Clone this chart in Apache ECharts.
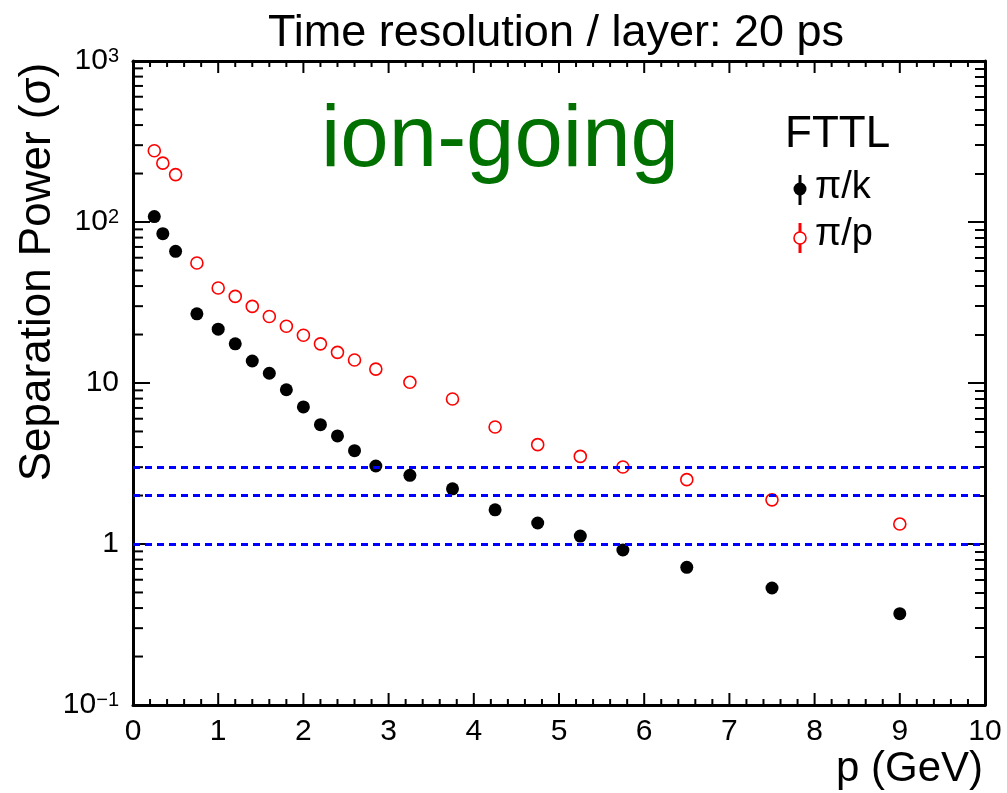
<!DOCTYPE html>
<html>
<head>
<meta charset="utf-8">
<script src="https://cdn.jsdelivr.net/npm/echarts@6/dist/echarts.min.js"></script>
<style>
  html, body { margin: 0; padding: 0; background: #fff; }
  #chart { width: 1007px; height: 793px; }
</style>
</head>
<body>
<div id="chart"></div>
<script>
// momentum bins (GeV)
const pValues = [0.25, 0.35, 0.5, 0.75, 1.0, 1.2, 1.4, 1.6, 1.8, 2.0, 2.2, 2.4, 2.6, 2.85, 3.25, 3.75, 4.25, 4.75, 5.25, 5.75, 6.5, 7.5, 9.0];
// separation power, pi/k and pi/p
const sepPiK = [108, 84.6, 65.7, 26.9, 21.6, 17.5, 13.7, 11.5, 9.08, 7.1, 5.51, 4.69, 3.80, 3.05, 2.67, 2.20, 1.63, 1.35, 1.12, 0.918, 0.716, 0.533, 0.369];
const sepPiP = [277, 232, 197, 55.6, 38.9, 34.5, 29.9, 25.9, 22.5, 19.8, 17.5, 15.5, 13.9, 12.2, 10.1, 7.96, 5.33, 4.14, 3.50, 3.01, 2.51, 1.88, 1.33];
// reference sigma lines
const thresholds = [1, 2, 3];
// axis ranges
const xRange = [0, 10];
const yRange = [0.1, 1000];
const decades = [-1, 0, 1, 2];

const FONT = 'Liberation Sans';
const W = 1007, H = 793;

// plot frame
const G = { left: 133, right: 22, top: 61, bottom: 88 };
const plotW = W - G.left - G.right;

// tick positions for the frame
const yMajorVals = [0.1, 1, 10, 100, 1000];
const yMinorVals = [];
const minorLogTicks = [];
decades.forEach(d => {
  for (let k = 2; k <= 9; k++) {
    yMinorVals.push(k * Math.pow(10, d));
    minorLogTicks.push(d + Math.log10(k));
  }
});
const xMajorVals = [];
const xMinorVals = [];
for (let i = 0; i <= 50; i++) {
  const v = Math.round(i * 2) / 10;
  if (i % 5 === 0) xMajorVals.push(v); else xMinorVals.push(v);
}

const yLabel = v => {
  if (Math.abs(v - 1) < 1e-9) return '{b|1}';
  if (Math.abs(v - 10) < 1e-9) return '{b|10}';
  const e = Math.round(Math.log10(v));
  return '{b|10}{s|' + (e < 0 ? '\u2212' + (-e) : e) + '}';
};

const chart = echarts.init(document.getElementById('chart'));

const frameLine = { show: true, onZero: false, lineStyle: { color: '#000', width: 3 } };
const noTick = { show: false };
const tickStyle = { color: '#000', width: 2 };

const xCommon = { type: 'value', min: xRange[0], max: xRange[1], interval: 1, splitLine: { show: false }, minorSplitLine: { show: false } };
const yLogCommon = { type: 'log', logBase: 10, min: yRange[0], max: yRange[1], splitLine: { show: false } };

// ROOT draws ticks inside the frame; short tick marks drawn as scatter symbols on the frame edges
const tickSeries = (name, data, size, offset) => ({
  name, type: 'scatter', xAxisIndex: 0, yAxisIndex: 0, z: 4, silent: true, clip: false,
  symbol: 'rect', symbolSize: size, symbolOffset: offset,
  itemStyle: { color: '#000', opacity: 1 },
  data
});

chart.setOption({
  animation: false,
  backgroundColor: '#fff',
  grid: { left: G.left, right: G.right, top: G.top, bottom: G.bottom, containLabel: false, outerBoundsMode: 'none' },
  xAxis: [
    Object.assign({}, xCommon, {
      position: 'bottom', axisLine: frameLine, axisTick: noTick, minorTick: noTick,
      axisLabel: { show: true, margin: 12, fontSize: 30, fontFamily: FONT, color: '#000', showMinLabel: true, showMaxLabel: true, hideOverlap: false }
    }),
    Object.assign({}, xCommon, { position: 'top', axisLine: frameLine, axisTick: noTick, minorTick: noTick, axisLabel: { show: false } })
  ],
  yAxis: [
    Object.assign({}, yLogCommon, {
      position: 'left', axisLine: frameLine, axisTick: noTick,
      axisLabel: {
        show: true, margin: 14, color: '#000', formatter: yLabel,
        showMinLabel: true, showMaxLabel: true, hideOverlap: false,
        rich: {
          b: { fontSize: 30, fontFamily: FONT, color: '#000', lineHeight: 30, verticalAlign: 'bottom' },
          s: { fontSize: 20, fontFamily: FONT, color: '#000', lineHeight: 20, verticalAlign: 'top', padding: [0, 0, 14, 0] }
        }
      }
    }),
    Object.assign({}, yLogCommon, { position: 'right', axisLine: frameLine, axisTick: noTick, axisLabel: { show: false } }),
    // right edge: tick-only axes moved across with a negative offset so their ticks point in
    Object.assign({}, yLogCommon, {
      position: 'left', offset: -plotW,
      axisLine: { show: false }, axisLabel: { show: false },
      axisTick: { show: true, length: 17, lineStyle: tickStyle }
    }),
    {
      type: 'value', min: Math.log10(yRange[0]), max: Math.log10(yRange[1]),
      position: 'left', offset: -plotW,
      axisLine: { show: false }, axisLabel: { show: false }, splitLine: { show: false },
      axisTick: { show: true, length: 10, customValues: minorLogTicks, lineStyle: tickStyle }
    }
  ],
  series: [
    {
      name: 'sigma lines', type: 'line', data: [], xAxisIndex: 0, yAxisIndex: 0, z: 1,
      markLine: {
        silent: true, symbol: ['none', 'none'], animation: false,
        label: { show: false },
        lineStyle: { color: '#0000ff', type: [7, 5], width: 3 },
        data: thresholds.map(t => ({ yAxis: t }))
      }
    },
    {
      name: '\u03c0/k', type: 'scatter', xAxisIndex: 0, yAxisIndex: 0, z: 3,
      symbol: 'circle', symbolSize: 13,
      itemStyle: { color: '#000', opacity: 1 },
      data: pValues.map((p, i) => [p, sepPiK[i]])
    },
    {
      name: '\u03c0/p', type: 'scatter', xAxisIndex: 0, yAxisIndex: 0, z: 3,
      symbol: 'circle', symbolSize: 12,
      itemStyle: { color: '#fff', borderColor: '#ff0000', borderWidth: 1.6, opacity: 1 },
      data: pValues.map((p, i) => [p, sepPiP[i]])
    },
    tickSeries('left major ticks', yMajorVals.map(v => [xRange[0], v]), [17, 2], [8.5, 0]),
    tickSeries('left minor ticks', yMinorVals.map(v => [xRange[0], v]), [10, 2], [5, 0]),
    tickSeries('top major ticks', xMajorVals.map(v => [v, yRange[1]]), [2, 12], [0, 6]),
    tickSeries('top minor ticks', xMinorVals.map(v => [v, yRange[1]]), [2, 6], [0, 3]),
    tickSeries('bottom major ticks', xMajorVals.map(v => [v, yRange[0]]), [2, 12], [0, -6]),
    tickSeries('bottom minor ticks', xMinorVals.map(v => [v, yRange[0]]), [2, 6], [0, -3])
  ],
  graphic: [
    { type: 'text', x: 556, y: 34, style: { text: 'Time resolution / layer: 20 ps', fontSize: 45, fontFamily: FONT, fill: '#000', align: 'center', verticalAlign: 'middle' } },
    { type: 'text', x: 38, y: 272, rotation: Math.PI / 2, style: { text: 'Separation Power (\u03c3)', fontSize: 44, fontFamily: FONT, fill: '#000', align: 'center', verticalAlign: 'middle' } },
    { type: 'text', x: 983, y: 769, style: { text: 'p (GeV)', fontSize: 42, fontFamily: FONT, fill: '#000', align: 'right', verticalAlign: 'middle' } },
    { type: 'text', x: 500, y: 142, style: { text: 'ion-going', fontSize: 87, fontFamily: FONT, fill: '#007000', align: 'center', verticalAlign: 'middle' } },
    // legend
    { type: 'text', x: 785, y: 135, style: { text: 'FTTL', fontSize: 44, fontFamily: FONT, fill: '#000', align: 'left', verticalAlign: 'middle' } },
    { type: 'line', shape: { x1: 800, y1: 175, x2: 800, y2: 205 }, style: { stroke: '#000', lineWidth: 3 } },
    { type: 'circle', shape: { cx: 800, cy: 189, r: 6.5 }, style: { fill: '#000' } },
    { type: 'text', x: 815, y: 188, style: { text: '\u03c0/k', fontSize: 38, fontFamily: FONT, fill: '#000', align: 'left', verticalAlign: 'middle' } },
    { type: 'line', shape: { x1: 800, y1: 223, x2: 800, y2: 253 }, style: { stroke: '#ff0000', lineWidth: 3 } },
    { type: 'circle', shape: { cx: 800, cy: 238, r: 6 }, style: { fill: '#fff', stroke: '#ff0000', lineWidth: 1.6 } },
    { type: 'text', x: 815, y: 235, style: { text: '\u03c0/p', fontSize: 38, fontFamily: FONT, fill: '#000', align: 'left', verticalAlign: 'middle' } }
  ]
});
</script>
</body>
</html>
